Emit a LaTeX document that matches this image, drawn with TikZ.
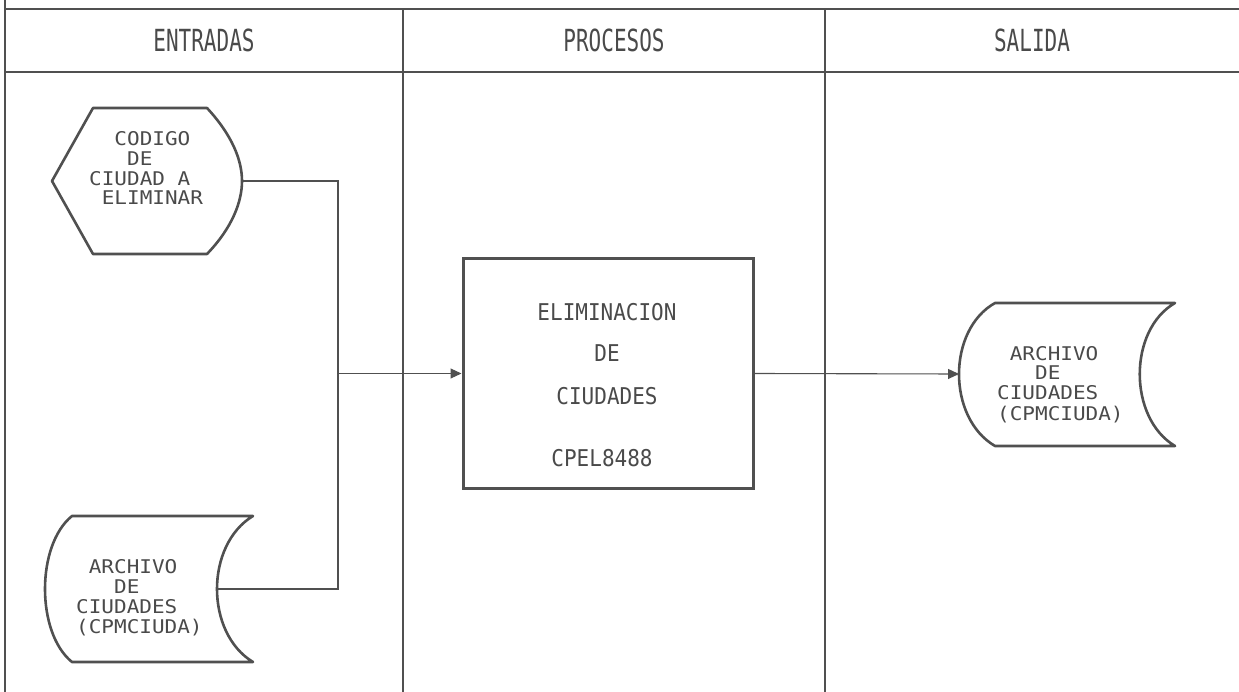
\documentclass[tikz,border=0pt]{standalone}
\usepackage{fontspec}
\usepackage{graphicx}
\usetikzlibrary{arrows.meta}
\newfontfamily\plotmono{DejaVu Sans Mono}
\definecolor{ink}{HTML}{505050}
\definecolor{txt}{HTML}{4A4A4A}
\newcommand{\hdr}[1]{\scalebox{1}[1.45]{#1}}
\newcommand{\blk}[1]{\scalebox{1}[0.9]{\begin{tabular}{@{}l@{}}#1\end{tabular}}}
\newcommand{\pln}[1]{\scalebox{1}[1.1]{#1}}
\newcommand{\ch}[1]{\hphantom{\plotmono #1}}
\tikzset{
  grid/.style={draw=ink, line width=1.1pt},
  shapeline/.style={draw=ink, line width=2.6pt, line join=round},
  conn/.style={draw=ink, line width=1.1pt},
  arr/.style={conn, -{Triangle[length=11pt,width=10pt]}},
  lbl/.style={text=txt, inner sep=0pt, font=\plotmono\fontsize{21}{22}\selectfont},
}
\begin{document}
\begin{tikzpicture}[x=1pt,y=-1pt]
\useasboundingbox (0,0) rectangle (1239,692);
% lanes
\draw[grid] (5,0) -- (5,692);
\draw[grid] (5,9) -- (1239,9);
\draw[grid] (5,72) -- (1239,72);
\draw[grid] (403,9) -- (403,692);
\draw[grid] (825,9) -- (825,692);
\node[lbl] (hE) at (204,40) {\hdr{ENTRADAS}};
\node[lbl] (hP) at (614,40) {\hdr{PROCESOS}};
\node[lbl] (hS) at (1032,40) {\hdr{SALIDA}};
% display shape
\draw[shapeline] (93,108) -- (207,108) .. controls (232,135) and (242,160) .. (242,181)
  .. controls (242,202) and (232,228) .. (207,254) -- (93,254) -- (52,181) -- cycle;
\coordinate (codR) at (242,181);
\node[lbl, anchor=west] (cod) at (89,171) {\blk{\ch{XX}CODIGO\\ \ch{XXX}DE\\ CIUDAD\ch{X}A\\ \ch{X}ELIMINAR}};
% left storage
\draw[shapeline] (72,516) -- (253,516) .. controls (205,545) and (205,633) .. (253,662)
  -- (72,662) .. controls (36,633) and (36,545) .. (72,516) -- cycle;
\coordinate (arcL) at (217,589);
\node[lbl, anchor=west] (arcIn) at (76,599.5) {\blk{\ch{X}ARCHIVO\\ \ch{XXX}DE\\ CIUDADES\\ (CPMCIUDA)}};
% process
\node[draw=ink, line width=3pt, minimum width=290pt, minimum height=229pt, inner sep=0pt] (proc) at (608,373.5) {};
\node[lbl] (p1) at (607,312) {\pln{ELIMINACION}};
\node[lbl] (p2) at (607,353) {\pln{DE}};
\node[lbl] (p3) at (607,396) {\pln{CIUDADES}};
\node[lbl] (p4) at (602,458) {\pln{CPEL8488}};
% right storage
\draw[shapeline] (995,303) -- (1175,303) .. controls (1128,330) and (1128,418) .. (1175,446)
  -- (995,446) .. controls (947,418) and (947,330) .. (995,303) -- cycle;
\coordinate (arcR) at (959,374);
\node[lbl, anchor=west] (arcOut) at (997,386) {\blk{\ch{X}ARCHIVO\\ \ch{XXX}DE\\ CIUDADES\\ (CPMCIUDA)}};
% connectors
\coordinate (j1) at (338,181);
\coordinate (j2) at (338,589);
\coordinate (jm) at (338,373.5);
\draw[conn] (codR) -- (j1) -- (j2) -- (arcL);
\draw[arr] (jm) -- (proc.west);
\draw[arr] (proc.east) -- (arcR);
\end{tikzpicture}
\end{document}
